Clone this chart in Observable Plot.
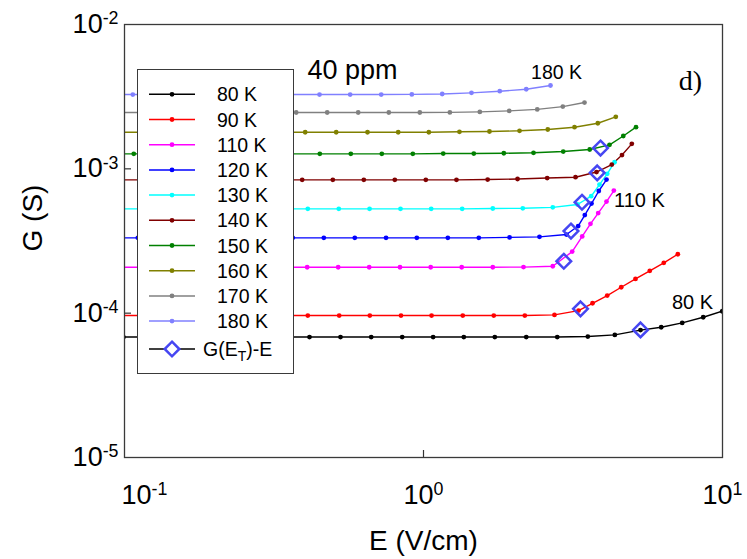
<!DOCTYPE html>
<html>
<head>
<meta charset="utf-8">
<script src="https://cdn.jsdelivr.net/npm/d3@7"></script>
<script src="https://cdn.jsdelivr.net/npm/@observablehq/plot@0.6"></script>
<style>
html,body{margin:0;padding:0;background:#fff;}
#wrap{position:relative;width:747px;height:559px;font-family:"Liberation Sans",Arial,sans-serif;}
#legend{position:absolute;left:137px;top:69px;width:155px;height:303px;border:1.5px solid #3a3a3a;background:#fff;}
#legend svg{display:block;}
</style>
</head>
<body>
<div id="wrap"></div>
<script>
// ---- series labels and colours ----
const temperatures = ["80 K","90 K","110 K","120 K","130 K","140 K","150 K","160 K","170 K","180 K"];
const colors = ["#000000","#ff0000","#ff00ff","#0000ff","#00ffff","#800000","#008000","#808000","#808080","#8080ff"];

// ---- E (V/cm) and G (S) per temperature ----
const E_80K = [0.0992,0.1260,0.1600,0.2031,0.2578,0.3274,0.4156,0.5277,0.6685,0.8488,1.077,1.364,1.732,2.206,2.801,3.544,4.364,5.318,6.237,7.332,8.619,9.977];
const G_80K = [6.83e-5,6.83e-5,6.83e-5,6.83e-5,6.83e-5,6.83e-5,6.83e-5,6.83e-5,6.83e-5,6.83e-5,6.83e-5,6.83e-5,6.83e-5,6.83e-5,6.83e-5,6.885e-5,7.07e-5,7.636e-5,7.985e-5,8.56e-5,9.37e-5,1.031e-4];

const E_90K = [0.0979,0.1243,0.1579,0.2004,0.2545,0.3231,0.4102,0.5224,0.6613,0.8408,1.064,1.353,1.718,2.182,2.742,3.299,3.675,4.116,4.584,5.117,5.713,6.364,7.088];
const G_90K = [9.625e-5,9.625e-5,9.625e-5,9.625e-5,9.625e-5,9.625e-5,9.625e-5,9.625e-5,9.625e-5,9.625e-5,9.625e-5,9.625e-5,9.625e-5,9.625e-5,9.73e-5,1.042e-4,1.171e-4,1.324e-4,1.512e-4,1.728e-4,1.964e-4,2.232e-4,2.560e-4];

const E_110K = [0.0975,0.1238,0.1571,0.1995,0.2533,0.3216,0.4083,0.5184,0.6582,0.8344,1.057,1.342,1.705,2.160,2.706,3.143,3.395,3.618,3.840,4.093,4.331];
const G_110K = [2.08e-4,2.08e-4,2.08e-4,2.08e-4,2.08e-4,2.08e-4,2.08e-4,2.08e-4,2.08e-4,2.08e-4,2.08e-4,2.08e-4,2.08e-4,2.086e-4,2.113e-4,2.67e-4,3.40e-4,4.16e-4,4.94e-4,5.93e-4,7.07e-4];

const E_120K = [0.0873,0.1108,0.1407,0.1785,0.2267,0.2878,0.3655,0.4641,0.5891,0.7494,0.9497,1.206,1.531,1.940,2.443,3.008,3.291,3.463,3.647,3.857,4.093];
const G_120K = [3.325e-4,3.325e-4,3.325e-4,3.325e-4,3.325e-4,3.325e-4,3.325e-4,3.325e-4,3.325e-4,3.325e-4,3.325e-4,3.325e-4,3.325e-4,3.35e-4,3.38e-4,3.505e-4,4.015e-4,4.785e-4,5.745e-4,7.02e-4,8.43e-4];

const E_130K = [0.0979,0.1243,0.1579,0.2004,0.2545,0.3231,0.4102,0.5208,0.6601,0.8377,1.061,1.347,1.705,2.148,2.706,3.274,3.638,3.878,4.116,4.354];
const G_130K = [5.28e-4,5.28e-4,5.28e-4,5.28e-4,5.28e-4,5.28e-4,5.28e-4,5.28e-4,5.28e-4,5.28e-4,5.28e-4,5.28e-4,5.31e-4,5.33e-4,5.41e-4,5.66e-4,6.46e-4,7.78e-4,9.23e-4,1.111e-3];

const E_140K = [0.0938,0.1191,0.1512,0.1920,0.2438,0.3095,0.3929,0.4974,0.6315,0.8017,1.018,1.289,1.639,2.063,2.592,3.224,3.790,4.264,4.612,4.974];
const G_140K = [8.39e-4,8.39e-4,8.39e-4,8.39e-4,8.39e-4,8.39e-4,8.39e-4,8.39e-4,8.39e-4,8.39e-4,8.39e-4,8.39e-4,8.43e-4,8.50e-4,8.63e-4,8.75e-4,9.50e-4,1.071e-3,1.246e-3,1.490e-3];

const E_150K = [0.0846,0.1074,0.1364,0.1731,0.2198,0.2792,0.3544,0.4500,0.5713,0.7254,0.9209,1.164,1.473,1.856,2.333,2.933,3.597,4.190,4.658,5.137];
const G_150K = [1.27e-3,1.27e-3,1.27e-3,1.27e-3,1.27e-3,1.27e-3,1.27e-3,1.27e-3,1.27e-3,1.27e-3,1.27e-3,1.276e-3,1.276e-3,1.282e-3,1.291e-3,1.318e-3,1.361e-3,1.467e-3,1.688e-3,1.943e-3];

const E_160K = [0.0960,0.1219,0.1548,0.1965,0.2495,0.3167,0.4021,0.5105,0.6497,0.8230,1.042,1.319,1.662,2.095,2.604,3.199,3.828,4.397];
const G_160K = [1.793e-3,1.793e-3,1.793e-3,1.793e-3,1.793e-3,1.793e-3,1.793e-3,1.793e-3,1.793e-3,1.793e-3,1.793e-3,1.805e-3,1.814e-3,1.834e-3,1.873e-3,1.943e-3,2.070e-3,2.293e-3];

const E_170K = [0.0896,0.1137,0.1444,0.1834,0.2328,0.2955,0.3752,0.4764,0.6048,0.7655,0.9719,1.225,1.543,1.935,2.401,2.924,3.455];
const G_170K = [2.456e-3,2.456e-3,2.456e-3,2.456e-3,2.456e-3,2.456e-3,2.456e-3,2.456e-3,2.456e-3,2.456e-3,2.456e-3,2.46e-3,2.48e-3,2.52e-3,2.58e-3,2.70e-3,2.88e-3];

const E_180K = [0.0839,0.1066,0.1354,0.1721,0.2187,0.2779,0.3531,0.4490,0.5685,0.7221,0.9139,1.155,1.447,1.799,2.206,2.659];
const G_180K = [3.27e-3,3.27e-3,3.27e-3,3.27e-3,3.27e-3,3.27e-3,3.27e-3,3.27e-3,3.27e-3,3.27e-3,3.28e-3,3.30e-3,3.36e-3,3.45e-3,3.56e-3,3.78e-3];

// ---- threshold points G(E_T)-E ----
const thresholdT = ["80 K","90 K","110 K","120 K","130 K","140 K","150 K"];
const thresholdE = [5.318,3.350,2.946,3.113,3.389,3.810,3.908];
const thresholdG = [7.66e-5,1.071e-4,2.289e-4,3.707e-4,5.867e-4,9.38e-4,1.393e-3];

// ---- axis ticks ----
const xTicks = [0.1,1,10];
const yTicks = [1e-5,1e-4,1e-3,1e-2];
const xInnerTicks = [1];
const yInnerTicks = [1e-4,1e-3];

// ---- annotations ----
const noteText = ["40 ppm","180 K","110 K","80 K"];
const noteE = [0.579,2.786,5.277,7.937];
const noteG = [4.80e-3,4.65e-3,6.03e-4,1.184e-4];
const noteSize = [27,19.5,20,20];
const panelText = ["d)"];
const panelE = [7.816];
const panelG = [4.09e-3];

// ---- build tables ----
const seriesE = [E_80K,E_90K,E_110K,E_120K,E_130K,E_140K,E_150K,E_160K,E_170K,E_180K];
const seriesG = [G_80K,G_90K,G_110K,G_120K,G_130K,G_140K,G_150K,G_160K,G_170K,G_180K];
const rows = temperatures.flatMap((t,i)=>seriesE[i].map((e,j)=>({T:t,E:e,G:seriesG[i][j]})));
const thresholds = thresholdT.map((t,i)=>({T:t,E:thresholdE[i],G:thresholdG[i]}));
const notes = noteText.map((t,i)=>({text:t,E:noteE[i],G:noteG[i],size:noteSize[i]}));
const panel = panelText.map((t,i)=>({text:t,E:panelE[i],G:panelG[i]}));

const W = 747, H = 559, mL = 124, mR = 25, mT = 24, mB = 102;
const plotW = W - mL - mR, plotH = H - mT - mB;
const diamondColor = "#4646f2";

const chart = Plot.plot({
  width: W, height: H,
  marginLeft: mL, marginRight: mR, marginTop: mT, marginBottom: mB,
  style: {fontFamily: '"Liberation Sans", Arial, sans-serif', background: "#fff", color: "#000"},
  x: {type: "log", domain: [0.1, 10]},
  y: {type: "log", domain: [1e-5, 1e-2]},
  color: {domain: temperatures, range: colors},
  marks: [
    Plot.line(rows, {x: "E", y: "G", z: "T", stroke: "T", strokeWidth: 1.4, clip: true}),
    Plot.dot(rows, {x: "E", y: "G", fill: "T", r: 2.4, clip: true}),
    Plot.dot(thresholds, {x: "E", y: "G", symbol: "diamond2", r: 6.6, stroke: diamondColor, strokeWidth: 2.5, fill: "none"}),
    Plot.ruleY(yInnerTicks, {y: d => d, insetRight: plotW - 7, stroke: "#333", strokeWidth: 1.2}),
    Plot.ruleX(xInnerTicks, {x: d => d, insetTop: plotH - 7, stroke: "#333", strokeWidth: 1.2}),
    Plot.frame({stroke: "#3a3a3a", strokeWidth: 1.3}),
    Plot.axisY({ticks: yTicks, tickSize: 0, tickPadding: 6, fontSize: 27, label: null,
      tickFormat: d => String(Math.round(Math.log10(d)))}),
    Plot.axisX({ticks: xTicks, tickSize: 0, tickPadding: 27, fontSize: 27, label: null,
      tickFormat: d => String(Math.round(Math.log10(d)))}),
    Plot.text(["E (V/cm)"], {text: d => d, frameAnchor: "bottom", lineAnchor: "middle", textAnchor: "middle", dy: 84, fontSize: 28}),
    Plot.text(["G (S)"], {text: d => d, frameAnchor: "left", lineAnchor: "middle", textAnchor: "middle", dx: -91, dy: -23, rotate: -90, fontSize: 28}),
    Plot.text(notes, {x: "E", y: "G", text: "text", fontSize: "size"}),
    Plot.text(panel, {x: "E", y: "G", text: "text", fontSize: 28, fontFamily: '"Liberation Serif", "Times New Roman", serif'})
  ]
});

// superscript exponents on tick labels
chart.querySelectorAll('g[aria-label$="tick label"] text').forEach(t => {
  const exp = t.textContent;
  t.textContent = "10";
  const ts = document.createElementNS("http://www.w3.org/2000/svg", "tspan");
  ts.setAttribute("dy", "-0.5em");
  ts.setAttribute("font-size", "0.66em");
  ts.textContent = exp;
  t.appendChild(ts);
});
const xLabels = chart.querySelectorAll('g[aria-label="x-axis tick label"] text');
if (xLabels.length) xLabels[0].setAttribute("dx", "20");

const wrap = document.getElementById("wrap");
wrap.appendChild(chart);

// legend box (inside the plot area)
const legend = document.createElement("div");
legend.id = "legend";
const rowY0 = 24.3, rowStep = 25.2;
let s = '<svg width="155" height="303" xmlns="http://www.w3.org/2000/svg" style="font-family:\'Liberation Sans\',Arial,sans-serif">';
temperatures.forEach((t, i) => {
  const y = rowY0 + i * rowStep;
  s += `<line x1="11" x2="57" y1="${y}" y2="${y}" stroke="${colors[i]}" stroke-width="1.5"/>`;
  s += `<circle cx="34" cy="${y}" r="2.4" fill="${colors[i]}"/>`;
  s += `<text x="79" y="${y}" dy="0.36em" font-size="19.5" fill="#000">${t}</text>`;
});
const yd = 279;
s += `<line x1="11" x2="57" y1="${yd}" y2="${yd}" stroke="#000" stroke-width="1.5"/>`;
s += `<path d="M34,${yd-7.3}L41.3,${yd}L34,${yd+7.3}L26.7,${yd}Z" fill="#fff" stroke="${diamondColor}" stroke-width="2.5"/>`;
s += `<text x="65" y="${yd}" dy="0.36em" font-size="19.5" fill="#000">G(E<tspan font-size="14" dy="5">T</tspan><tspan dy="-5">)-E</tspan></text>`;
s += '</svg>';
legend.innerHTML = s;
wrap.appendChild(legend);
</script>
</body>
</html>
